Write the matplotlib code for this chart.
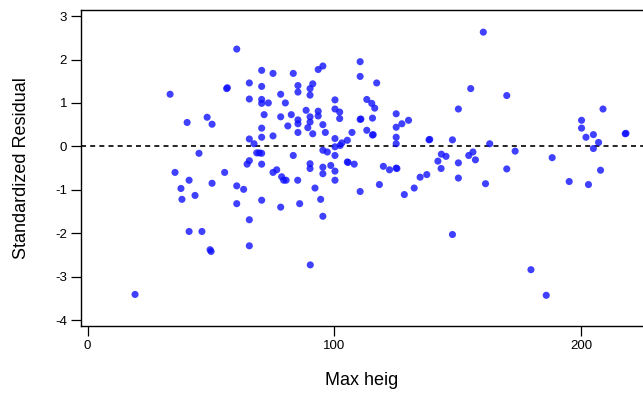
import matplotlib
matplotlib.use('Agg')
import matplotlib.pyplot as plt

plt.rcParams['font.family'] = ['Liberation Sans', 'DejaVu Sans']
plt.rcParams['axes.unicode_minus'] = False

# Residuals, grouped by region of the plot
x_left = [33.4, 40.3, 48.4, 50.4, 45.1, 35.4, 41.1, 37.8, 50.4, 43.5,
          38.2, 41.1, 46.3, 49.6, 50.0, 19.2]
r_left = [1.20, 0.55, 0.67, 0.51, -0.16, -0.60, -0.78, -0.97, -0.85, -1.13,
          -1.22, -1.96, -1.96, -2.38, -2.42, -3.41]

x_mid_up = [60.4, 56.3, 56.6, 65.5, 65.5, 70.5, 70.5, 75.1, 83.3, 70.5,
            70.5, 73.2, 78.2, 80.1, 71.5, 78.2, 82.5, 85.2, 85.2, 85.2,
            85.2, 85.2, 81.1, 88.5, 90.1, 91.2, 90.1, 93.4, 95.3, 90.1,
            90.1, 93.4, 93.4, 89.2, 91.2, 95.3, 96.3, 100.2, 100.2, 102.1,
            102.1, 110.4, 110.4, 117.1, 113.1, 115.1, 116.3, 110.4, 110.7, 115.4,
            113.1, 115.4, 115.7, 125.0, 125.0, 127.3, 130.0, 125.0, 125.0, 107.1,
            105.2, 100.2, 100.2, 102.3, 103.0, 70.5, 70.5, 75.1, 65.5, 67.4]
r_mid_up = [2.24, 1.33, 1.35, 1.46, 1.09, 1.75, 1.38, 1.68, 1.68, 1.08,
            0.99, 1.00, 1.20, 1.00, 0.73, 0.68, 0.73, 1.40, 1.25, 0.61,
            0.52, 0.32, 0.47, 0.83, 1.33, 1.44, 1.18, 1.77, 1.85, 0.68,
            0.56, 0.81, 0.70, 0.43, 0.29, 0.50, 0.32, 1.07, 0.86, 0.79,
            0.64, 1.95, 1.61, 1.46, 1.08, 0.99, 0.88, 0.62, 0.63, 0.65,
            0.37, 0.26, 0.27, 0.75, 0.44, 0.52, 0.60, 0.21, 0.06, 0.32,
            0.14, 0.18, -0.01, 0.02, 0.08, 0.42, 0.21, 0.24, 0.17, 0.06]

x_mid_low = [68.5, 70.5, 69.5, 83.3, 95.3, 97.1, 100.2, 65.5, 64.6, 70.5,
             76.6, 75.1, 90.1, 90.1, 95.3, 95.3, 98.5, 100.2, 105.2, 105.5,
             108.0, 119.8, 122.3, 125.0, 125.3, 55.5, 60.4, 63.2, 78.6, 79.4,
             80.4, 85.1, 100.2, 92.1, 118.2, 110.4, 128.3, 132.3, 134.7, 137.4,
             70.5, 60.4, 78.2, 85.9, 94.4, 95.3, 65.5, 65.5, 90.2]
r_mid_low = [-0.15, -0.16, -0.15, -0.21, -0.09, -0.13, -0.21, -0.33, -0.41, -0.41,
             -0.54, -0.60, -0.40, -0.51, -0.48, -0.63, -0.44, -0.57, -0.36, -0.37,
             -0.41, -0.46, -0.54, -0.50, -0.51, -0.60, -0.91, -0.99, -0.70, -0.78,
             -0.78, -0.78, -0.78, -0.96, -0.88, -1.04, -1.11, -0.96, -0.71, -0.65,
             -1.24, -1.32, -1.40, -1.32, -1.22, -1.61, -1.69, -2.29, -2.73]

x_right = [160.3, 155.2, 169.8, 150.2, 208.8, 200.1, 200.1, 201.9, 204.9, 207.0,
           204.9, 217.8, 218.1, 138.3, 138.6, 147.8, 162.9, 173.2, 143.3, 145.2,
           141.9, 154.4, 156.1, 157.1, 143.2, 150.2, 150.2, 169.8, 188.2, 207.8,
           161.2, 195.1, 202.9, 147.8, 179.6, 185.8]
r_right = [2.63, 1.33, 1.17, 0.86, 0.86, 0.60, 0.42, 0.21, 0.27, 0.09,
           -0.05, 0.29, 0.30, 0.15, 0.16, 0.15, 0.06, -0.11, -0.18, -0.23,
           -0.34, -0.21, -0.13, -0.31, -0.51, -0.38, -0.73, -0.52, -0.26, -0.55,
           -0.86, -0.81, -0.88, -2.03, -2.84, -3.43]

max_heig = x_left + x_mid_up + x_mid_low + x_right
std_resid = r_left + r_mid_up + r_mid_low + r_right

x_ticks = [0, 100, 200]
y_ticks = [-4, -3, -2, -1, 0, 1, 2, 3]

fig = plt.figure(figsize=(6.43, 3.96), dpi=100)
ax = fig.add_axes([81 / 643, 1 - 325.7 / 396, 1 - 81 / 643, (325.7 - 10) / 396])

ax.axhline(0, color='black', linestyle=(0, (3, 2.5)), linewidth=1.2, zorder=1)
ax.scatter(max_heig, std_resid, s=26, c='#1010ff', alpha=0.8,
           edgecolors='none', marker='o', zorder=2)

ax.set_xlim(-2.7, 225)
ax.set_ylim(-4.13, 3.14)
ax.set_xticks(x_ticks)
ax.set_yticks(y_ticks)
ax.tick_params(direction='out', length=7, width=0.9, labelsize=9.5, colors='black', pad=3)

ax.spines['right'].set_visible(False)
for side in ['left', 'bottom', 'top']:
    ax.spines[side].set_linewidth(1.0)

ax.set_xlabel('Max heig', fontsize=13, labelpad=15)
ax.set_ylabel('Standardized Residual', fontsize=13, labelpad=18)

plt.savefig('out.png', dpi=100)
plt.close()
